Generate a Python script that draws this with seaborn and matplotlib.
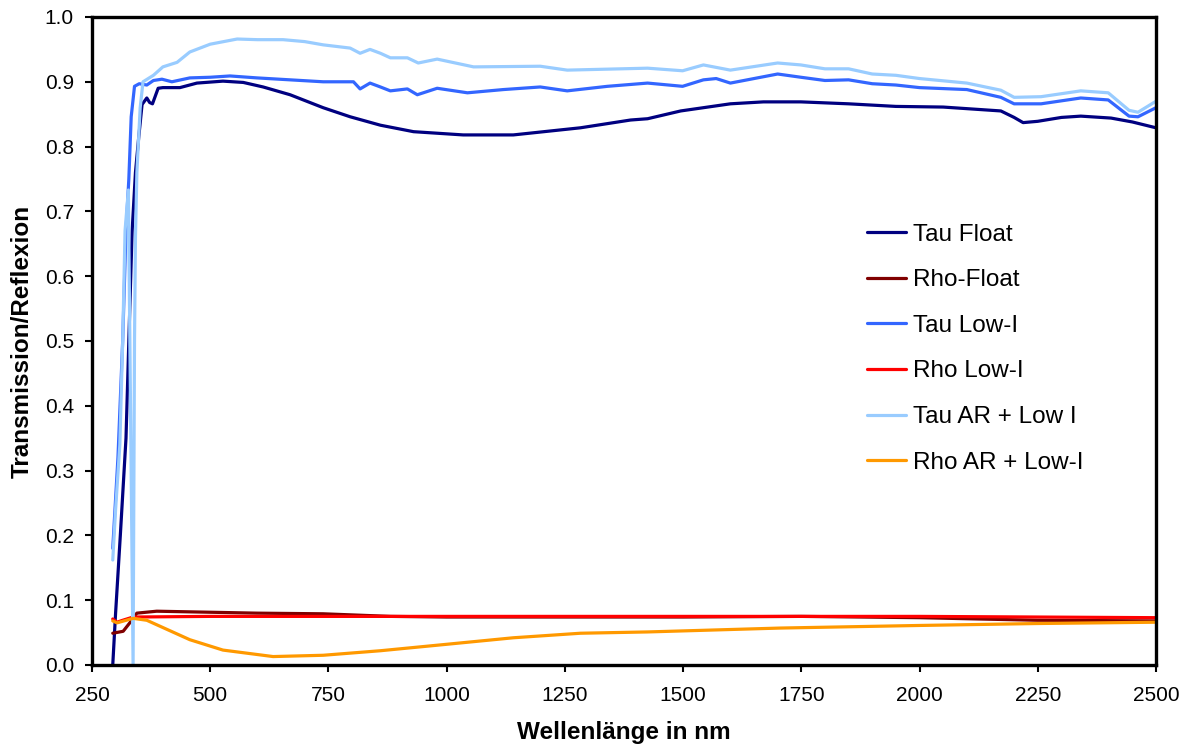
import matplotlib
matplotlib.use("Agg")
import matplotlib.pyplot as plt
import numpy as np
import pandas as pd
import seaborn as sns

# Spectral transmission / reflection of glazing samples (wavelength in nm)
tau_float_x = [294, 300, 310, 322, 330, 335, 342, 349, 356, 366, 372, 378, 390, 400, 436, 472,
               527, 570, 612, 669, 739, 796, 860, 930, 1035, 1141, 1283, 1389, 1425, 1495, 1600,
               1670, 1749, 1850, 1950, 2050, 2172, 2200, 2219, 2250, 2300, 2341, 2405, 2450, 2500]
tau_float_y = [0.0, 0.08, 0.2, 0.35, 0.55, 0.67, 0.76, 0.815, 0.865, 0.875, 0.868, 0.866, 0.89,
               0.891, 0.891, 0.898, 0.901, 0.899, 0.892, 0.88, 0.86, 0.846, 0.833, 0.823, 0.818,
               0.818, 0.829, 0.841, 0.843, 0.855, 0.866, 0.869, 0.869, 0.866, 0.862, 0.861, 0.855,
               0.845, 0.837, 0.839, 0.845, 0.847, 0.844, 0.838, 0.829]

rho_float_x = [294, 316, 330, 345, 387, 457, 599, 739, 881, 1000, 1500, 1750, 2000, 2250, 2500]
rho_float_y = [0.049, 0.052, 0.065, 0.080, 0.083, 0.082, 0.080, 0.079, 0.075, 0.074, 0.074,
               0.075, 0.073, 0.069, 0.068]

tau_lowi_x = [294, 305, 315, 322, 328, 333, 340, 350, 366, 380, 398, 419, 457, 500, 542, 599,
              669, 739, 803, 817, 838, 860, 881, 917, 938, 980, 1044, 1120, 1198, 1255, 1340,
              1425, 1499, 1543, 1570, 1600, 1700, 1749, 1800, 1850, 1900, 1950, 2000, 2100,
              2172, 2200, 2257, 2341, 2399, 2443, 2462, 2500]
tau_lowi_y = [0.18, 0.32, 0.5, 0.67, 0.75, 0.846, 0.893, 0.897, 0.895, 0.902, 0.904, 0.9, 0.906,
              0.907, 0.909, 0.906, 0.903, 0.9, 0.9, 0.889, 0.898, 0.892, 0.886, 0.889, 0.88,
              0.89, 0.883, 0.888, 0.892, 0.886, 0.893, 0.898, 0.893, 0.903, 0.905, 0.898, 0.912,
              0.907, 0.902, 0.903, 0.897, 0.895, 0.891, 0.888, 0.876, 0.866, 0.866, 0.875, 0.872,
              0.847, 0.846, 0.86]

rho_lowi_x = [294, 303, 315, 337, 500, 1000, 1500, 2000, 2500]
rho_lowi_y = [0.071, 0.066, 0.069, 0.074, 0.075, 0.075, 0.075, 0.075, 0.073]

tau_ar_x = [294, 300, 309, 315, 320, 327, 337, 340, 342, 345, 352, 358, 380, 400, 430, 457, 500,
            557, 600, 654, 700, 739, 796, 817, 838, 860, 881, 917, 940, 980, 1057, 1198, 1255,
            1425, 1499, 1543, 1600, 1700, 1749, 1800, 1850, 1900, 1950, 2000, 2100, 2172, 2200,
            2257, 2341, 2399, 2443, 2462, 2500]
tau_ar_y = [0.162, 0.24, 0.34, 0.5, 0.67, 0.733, 0.0, 0.5, 0.66, 0.76, 0.86, 0.9, 0.91, 0.923,
            0.93, 0.946, 0.958, 0.966, 0.965, 0.965, 0.962, 0.957, 0.952, 0.944, 0.95, 0.944,
            0.937, 0.937, 0.929, 0.935, 0.923, 0.924, 0.918, 0.921, 0.917, 0.926, 0.918, 0.929,
            0.926, 0.92, 0.92, 0.912, 0.91, 0.905, 0.898, 0.887, 0.876, 0.877, 0.886, 0.883,
            0.856, 0.853, 0.87]

rho_ar_x = [294, 303, 337, 366, 457, 527, 633, 739, 860, 1001, 1141, 1283, 1425, 1565, 1706,
            2000, 2250, 2500]
rho_ar_y = [0.068, 0.065, 0.072, 0.069, 0.039, 0.023, 0.013, 0.015, 0.022, 0.032, 0.042, 0.049,
            0.051, 0.054, 0.057, 0.061, 0.064, 0.066]

series_names = ["Tau Float", "Rho-Float", "Tau Low-I", "Rho Low-I", "Tau AR + Low I", "Rho AR + Low-I"]
series_colors = ["#000080", "#800000", "#3366FF", "#FF0000", "#99CCFF", "#FF9900"]
series_data = [(tau_float_x, tau_float_y), (rho_float_x, rho_float_y),
               (tau_lowi_x, tau_lowi_y), (rho_lowi_x, rho_lowi_y),
               (tau_ar_x, tau_ar_y), (rho_ar_x, rho_ar_y)]

x_ticks = [250, 500, 750, 1000, 1250, 1500, 1750, 2000, 2250, 2500]
y_ticks = [0.0, 0.1, 0.2, 0.3, 0.4, 0.5, 0.6, 0.7, 0.8, 0.9, 1.0]

frames = []
for name, (xs, ys) in zip(series_names, series_data):
    frames.append(pd.DataFrame({"nm": xs, "val": ys, "Serie": name,
                                "order": np.arange(len(xs))}))
df = pd.concat(frames, ignore_index=True)

sns.set_theme(style="white")
plt.rcParams["font.family"] = ["Liberation Sans", "DejaVu Sans"]
plt.rcParams["text.color"] = "black"
plt.rcParams["axes.labelcolor"] = "black"
plt.rcParams["xtick.color"] = "black"
plt.rcParams["ytick.color"] = "black"

fig = plt.figure(figsize=(11.91, 7.45), dpi=100)
ax = fig.add_axes([0.0772, 0.1074, 0.8934, 0.8698])

sns.lineplot(data=df, x="nm", y="val", hue="Serie", hue_order=series_names,
             palette=dict(zip(series_names, series_colors)), estimator=None, sort=False,
             units="Serie", linewidth=2.3, ax=ax, legend=True)

ax.set_xlim(250, 2500)
ax.set_ylim(0, 1.0)
ax.set_xticks(x_ticks)
ax.set_yticks(y_ticks)
ax.set_xticklabels([str(v) for v in x_ticks])
ax.set_yticklabels([f"{v:.1f}" for v in y_ticks])
ax.tick_params(axis="x", which="major", direction="out", length=5, width=1.5,
               color="black", labelsize=15, labelcolor="black", pad=10,
               bottom=True, top=False)
ax.tick_params(axis="y", which="major", direction="out", length=5, width=1.5,
               color="black", labelsize=15, labelcolor="black", pad=8,
               left=True, right=False)

for side in ["left", "bottom", "top", "right"]:
    ax.spines[side].set_visible(True)
    ax.spines[side].set_color("black")
    ax.spines[side].set_linewidth(2.4)

ax.set_xlabel("Wellenlänge in nm", fontsize=17.5, fontweight="bold", labelpad=12, color="black")
ax.set_ylabel("Transmission/Reflexion", fontsize=17.5, fontweight="bold", labelpad=8, color="black")
ax.grid(False)

handles, labels = ax.get_legend_handles_labels()
leg = ax.legend(handles, labels, loc="upper left", bbox_to_anchor=(0.719, 0.696),
                frameon=False, fontsize=17.5, handlelength=1.6, handletextpad=0.3,
                labelspacing=0.97, borderaxespad=0)
for t in leg.get_texts():
    t.set_color("black")

fig.savefig("out.png", dpi=100)
